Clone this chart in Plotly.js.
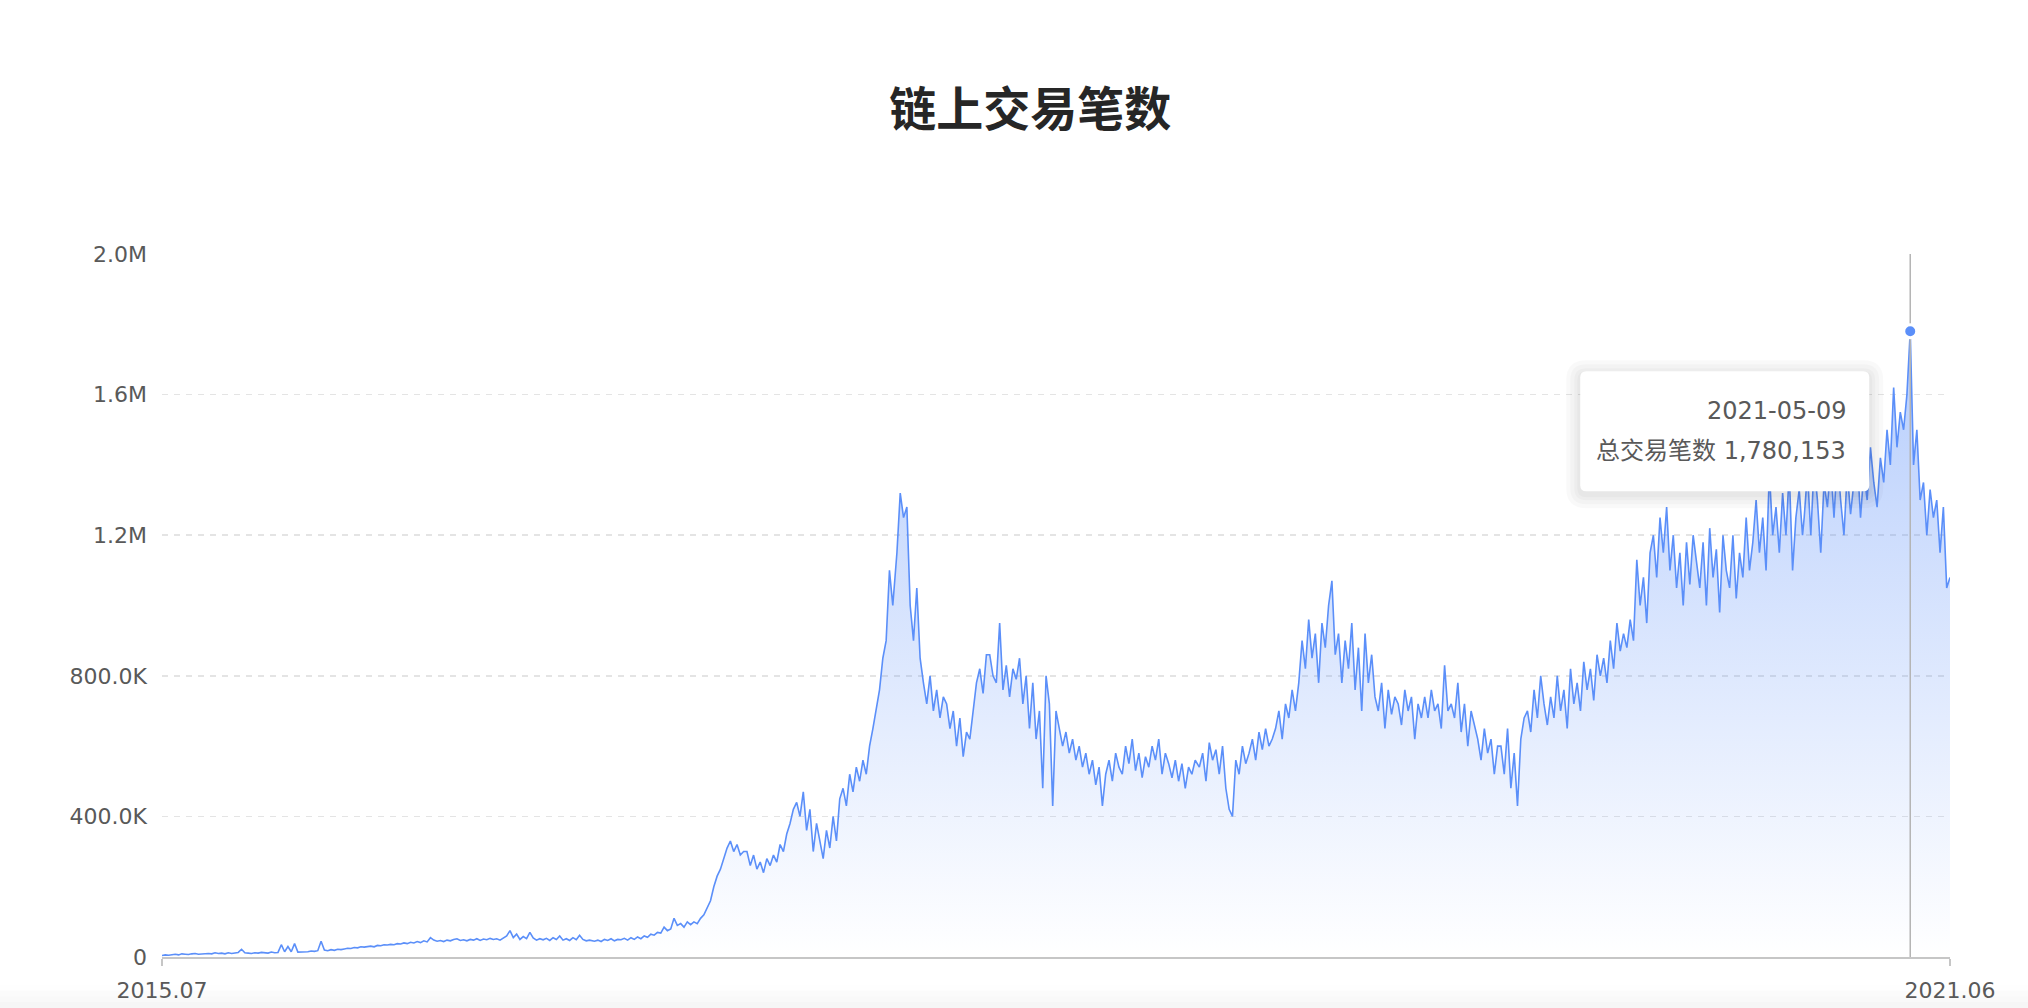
<!DOCTYPE html>
<html><head><meta charset="utf-8">
<script src="https://cdn.plot.ly/plotly-3.0.1.min.js"></script>
<style>html,body{margin:0;padding:0;background:#fff;overflow:hidden}#chart{width:2028px;height:1008px}</style>
</head><body><div id="chart"></div>
<script>
const chartTitle = '链上交易笔数';
const seriesName = '总交易笔数';
const stepDays = 4; // one reading every 4 days, values in thousands

const start2015 = '2015-07-30';
const v2015 = [4,6,5,7,8,6,9,8,7,9,10,8,9,11,10,9,12,10,11,9,12,10,11,13,22,12,11,10,12,11,13,12,11,14,12,13,35,15,30];
const start2016 = '2016-01-02';
const v2016 = [15,38,14,14,16,15,17,16, 18,45,20,18,21,19,22, 21,23,25,24,27,26,29,28, 30,31,29,33,32,35,34,
  36,35,38,37,40,38,42,40, 44,41,46,43,55,48,45,47, 44,48,46,50,52,47,49, 46,50,48,52,47,51,49,53,
  50,52,48,55,60,75,55,65, 50,58,52,70,54,48,52, 49,53,47,55,50,60,48,52, 47,55,49,62,50,46,48];
const start2017 = '2017-01-02';
const v2017 = [45,48,44,50,47,52,46,50, 49,53,48,55,50,57,52, 60,56,65,62,70,68,85,75, 80,110,90,95,85,100,92,
  100,95,110,120,140,160,200,230, 250,280,310,330,300,320,290,300, 300,260,290,250,270,240,280,
  260,290,270,320,300,350,380,420, 440,400,470,360,420,300,380,330, 280,360,310,400,330,450,480,
  430,520,470,540,500,560,520,600, 650,700,760,850,900,1100,1000];
const start2018 = '2018-01-02';
const v2018 = [1150,1320,1250,1280,1000,900,1050,850, 780,720,800,700,760,680,740, 720,650,700,600,680,570,640,620,
  700,780,820,750,860,860,800, 780,950,760,830,740,820,790,850, 720,800,650,780,620,700,480,
  800,720,430,700,650,600,640,580, 620,560,600,540,580,520,560,490, 540,430,520,560,500,580,540,
  520,600,550,620,530,580,510,570, 540,600,560,620,520,580,550,510, 560,500,550,480,540,520,560];
const start2019 = '2019-01-02';
const v2019 = [540,580,500,610,560,590,520,600, 480,420,400,560,520,600,550, 580,620,560,640,590,650,600,620,
  650,700,620,720,680,760,700, 780,900,820,960,850,920,780,950, 880,1000,1070,860,920,780,900,
  820,950,760,880,700,920,780,860, 740,700,780,650,760,690,740,720, 660,760,700,740,620,720,680,
  740,680,760,700,720,650,830,700, 720,680,780,640,720,600,700,660, 620,560,650,580,620,520,600];
const start2020 = '2020-01-01';
const v2020 = [600,520,650,480,580,430,620,680, 700,640,760,680,800,720,660, 740,680,800,700,760,650,820,720,
  780,700,840,760,820,730,860,800, 850,780,900,820,950,870,920, 880,960,900,1130,1000,1080,950,1150,
  1200,1080,1250,1150,1280,1100,1200,1050, 1150,1000,1180,1060,1200,1120,1050, 1180,1000,1220,1080,1160,980,1200,1100,
  1050,1200,1020,1150,1080,1250,1100,1180, 1300,1150,1250,1100,1380,1200,1280, 1150,1320,1200,1380,1100,1250,1330,1200];
const start2021 = '2021-01-01';
const v2021 = [1250,1380,1200,1400,1300,1150,1350,1280, 1400,1250,1420,1300,1200,1380,1260, 1350,1420,1250,1380,1300,1450,1350,1280,
  1420,1350,1500,1400,1620,1450,1550, 1500,1600,1780.153,1400,1500,1300,1350,1200, 1330,1250,1300,1150,1280,1050,1080];

const yTickVals = [0, 400000, 800000, 1200000, 1600000, 2000000];
const yTickText = ['0', '400.0K', '800.0K', '1.2M', '1.6M', '2.0M'];
const xTickVals = ['2015-07-30', '2021-06-26'];
const xTickText = ['2015.07', '2021.06'];
const peakDate = '2021-05-09';
const peakValue = 1780153;

function sampleDates(start, n) {
  const t0 = Date.parse(start + 'T00:00:00Z');
  const out = [];
  for (let i = 0; i < n; i++) out.push(new Date(t0 + i * stepDays * 86400000).toISOString().slice(0, 10));
  return out;
}
const blocks = [[start2015, v2015], [start2016, v2016], [start2017, v2017], [start2018, v2018], [start2019, v2019], [start2020, v2020], [start2021, v2021]];
let xs = [], ys = [];
blocks.forEach(([s, v]) => { xs = xs.concat(sampleDates(s, v.length)); ys = ys.concat(v.map(d => Math.round(d * 1000))); });

const blue = '#5B8FF9';
const tickFont = {family: 'DejaVu Sans, Noto Sans CJK SC, sans-serif', size: 22, color: '#595959'};

const traces = [
  {x: xs, y: ys, type: 'scatter', mode: 'lines', line: {color: blue, width: 1.6},
   fill: 'tozeroy',
   fillgradient: {type: 'vertical', start: 0, stop: 1800000,
     colorscale: [[0, 'rgba(91,143,249,0)'], [1, 'rgba(91,143,249,0.45)']]},
   hoverinfo: 'skip'},
  {x: [peakDate, peakDate], y: [0, yTickVals[yTickVals.length - 1]], type: 'scatter', mode: 'lines',
   line: {color: '#b4b4b4', width: 1.5}, hoverinfo: 'skip'},
  {x: [peakDate], y: [peakValue], type: 'scatter', mode: 'markers',
   marker: {size: 13, color: blue, line: {color: '#ffffff', width: 3}}, hoverinfo: 'skip'}
];

function rr(x0, y0, x1, y1, r) {
  return `M ${x0 + r},${y0} L ${x1 - r},${y0} Q ${x1},${y0} ${x1},${y0 + r} L ${x1},${y1 - r} Q ${x1},${y1} ${x1 - r},${y1} L ${x0 + r},${y1} Q ${x0},${y1} ${x0},${y1 - r} L ${x0},${y0 + r} Q ${x0},${y0} ${x0 + r},${y0} Z`;
}
// tooltip box, placed relative to the highlighted point (pixels)
const tip = {x0: -330, x1: -41, y0: -160, y1: -40};
const shapes = [];
// faint page shade along the bottom edge
[[-0.040, -0.048, '#fefefe'], [-0.048, -0.056, '#fbfbfb'], [-0.056, -0.064, '#f9f9f9'], [-0.064, -0.08, '#f6f6f6']].forEach(b => {
  shapes.push({type: 'rect', layer: 'below', xref: 'paper', yref: 'paper', x0: -0.1, x1: 1.05, y0: b[1], y1: b[0],
    fillcolor: b[2], line: {width: 0}});
});
[14, 10, 6, 3].forEach(e => {
  shapes.push({type: 'path', layer: 'above', xref: 'x', yref: 'y', xsizemode: 'pixel', ysizemode: 'pixel',
    xanchor: peakDate, yanchor: peakValue,
    path: rr(tip.x0 - e, tip.y0 - e - 3, tip.x1 + e, tip.y1 + e - 3, 6 + e),
    fillcolor: 'rgba(0,0,0,0.025)', line: {width: 0}});
});
shapes.push({type: 'path', layer: 'above', xref: 'x', yref: 'y', xsizemode: 'pixel', ysizemode: 'pixel',
  xanchor: peakDate, yanchor: peakValue, path: rr(tip.x0, tip.y0, tip.x1, tip.y1, 6),
  fillcolor: '#ffffff', line: {width: 0}});

const tipFont = {family: 'DejaVu Sans, Noto Sans CJK SC, sans-serif', size: 24, color: '#595959'};
const annotations = [
  {x: peakDate, y: peakValue, xref: 'x', yref: 'y', text: peakDate, showarrow: false,
   xanchor: 'right', yanchor: 'middle', xshift: -62, yshift: -80, font: tipFont},
  {x: peakDate, y: peakValue, xref: 'x', yref: 'y', text: seriesName + ' ' + peakValue.toLocaleString('en-US'), showarrow: false,
   xanchor: 'right', yanchor: 'middle', xshift: -62, yshift: -120, font: tipFont}
];

const layout = {
  width: 2028, height: 1008,
  margin: {l: 162, r: 78, t: 254, b: 51, pad: 0},
  paper_bgcolor: '#ffffff', plot_bgcolor: '#ffffff',
  showlegend: false, hovermode: false,
  title: {text: chartTitle, x: 0.508, xref: 'container', xanchor: 'center', y: 0.891, yref: 'container', yanchor: 'middle',
    font: {family: 'Noto Sans CJK SC, sans-serif', size: 47, color: '#262626', weight: 700}},
  xaxis: {type: 'date', range: [xTickVals[0], xTickVals[1]], tickmode: 'array', tickvals: xTickVals, ticktext: xTickText,
    showgrid: false, zeroline: false, showline: true, linecolor: '#c6c6c6', linewidth: 1.5,
    ticks: 'outside', ticklen: 7, tickwidth: 1.5, tickcolor: '#c6c6c6', tickfont: tickFont, ticklabelstandoff: 6, fixedrange: true},
  yaxis: {range: [0, 2000000], tickmode: 'array', tickvals: yTickVals, ticktext: yTickText,
    showgrid: true, gridcolor: '#e4e4e4', gridwidth: 1.5, griddash: '6px,6px', zeroline: false, showline: false,
    ticks: '', ticklabelstandoff: 14, tickfont: tickFont, fixedrange: true},
  shapes: shapes,
  annotations: annotations
};
Plotly.newPlot('chart', traces, layout, {displayModeBar: false, staticPlot: true});
</script></body></html>
